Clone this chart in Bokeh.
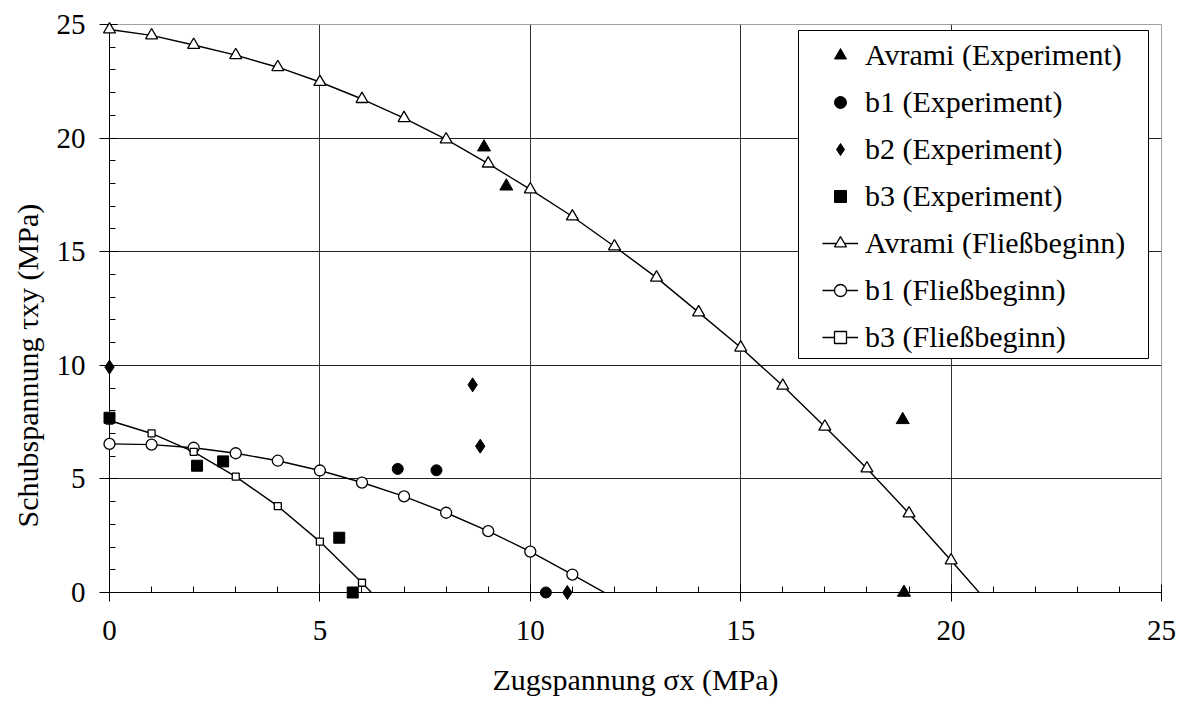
from bokeh.plotting import figure
from bokeh.models import (Legend, LegendItem, BoxAnnotation, Title, Range1d,
                          SingleIntervalTicker)
from bokeh.embed import file_html
from bokeh.resources import INLINE

# ---------------- data ----------------
# Experimental points
avrami_exp_x = [8.90, 9.43, 18.85, 18.88]
avrami_exp_y = [19.60, 17.88, 7.60, 0.0]

b1_exp_x = [6.85, 7.77, 10.37]
b1_exp_y = [5.44, 5.38, 0.0]

b2_exp_x = [0.0, 8.63, 8.81, 10.88]
b2_exp_y = [9.92, 9.14, 6.44, 0.0]

b3_exp_x = [0.0, 2.08, 2.70, 5.46, 5.78]
b3_exp_y = [7.69, 5.58, 5.77, 2.41, 0.0]

# Yield onset curves (last point lies below the axis, as in the original sheet)
avrami_fb_x = [0, 1, 2, 3, 4, 5, 6, 7, 8, 9, 10, 11, 12, 13, 14, 15, 16, 17, 18, 19, 20, 21]
avrami_fb_y = [24.78, 24.52, 24.10, 23.65, 23.12, 22.47, 21.72, 20.88, 19.94, 18.88, 17.74,
               16.55, 15.23, 13.86, 12.33, 10.78, 9.10, 7.30, 5.46, 3.48, 1.41, -0.70]

b1_fb_x = [0, 1, 2, 3, 4, 5, 6, 7, 8, 9, 10, 11, 12]
b1_fb_y = [6.54, 6.51, 6.37, 6.13, 5.80, 5.37, 4.84, 4.23, 3.51, 2.70, 1.80, 0.79, -0.25]

b3_fb_x = [0, 1, 2, 3, 4, 5, 6, 7]
b3_fb_y = [7.57, 7.00, 6.19, 5.10, 3.80, 2.24, 0.43, -1.50]

x_ticks = [0, 5, 10, 15, 20, 25]
y_ticks = [0, 5, 10, 15, 20, 25]

x_title = "Zugspannung σx (MPa)"
y_title = "Schubspannung τxy (MPa)"

labels = ["Avrami (Experiment)", "b1 (Experiment)", "b2 (Experiment)", "b3 (Experiment)",
          "Avrami (Fließbeginn)", "b1 (Fließbeginn)", "b3 (Fließbeginn)"]

FONT = "Liberation Serif"


def visible(xs, ys):
    """Markers are only drawn for points inside the axis range (like the source chart)."""
    pts = [(x, y) for x, y in zip(xs, ys)
           if x_ticks[0] <= x <= x_ticks[-1] and y_ticks[0] <= y <= y_ticks[-1]]
    return [a for a, _ in pts], [b for _, b in pts]


p = figure(width=1182, height=706,
           x_range=Range1d(x_ticks[0], x_ticks[-1]),
           y_range=Range1d(y_ticks[0], y_ticks[-1]),
           output_backend="svg", toolbar_location=None,
           min_border_left=109, min_border_right=21,
           min_border_top=24, min_border_bottom=114)

p.background_fill_color = "white"
p.border_fill_color = "white"
p.outline_line_color = "#a0a0a0"
p.outline_line_width = 1

# axes
for ax in (p.xaxis[0], p.yaxis[0]):
    ax.ticker = SingleIntervalTicker(interval=5, num_minor_ticks=5)
    ax.axis_line_color = "black"
    ax.axis_line_width = 1
    ax.major_tick_line_color = "black"
    ax.minor_tick_line_color = "black"
    ax.major_label_text_font = FONT
    ax.major_label_text_font_size = "29px"
    ax.major_label_text_color = "black"
    ax.minor_tick_in = 6
    ax.minor_tick_out = 0

p.xaxis.major_tick_in = 8
p.xaxis.major_tick_out = 9
p.xaxis.major_label_standoff = 19
p.yaxis.major_tick_in = 8
p.yaxis.major_tick_out = 10
p.yaxis.major_label_standoff = 14

p.xaxis.axis_label = x_title
p.xaxis.axis_label_text_font = FONT
p.xaxis.axis_label_text_font_size = "30px"
p.xaxis.axis_label_text_font_style = "normal"
p.xaxis.axis_label_text_color = "black"
p.xaxis.axis_label_standoff = 20

p.xgrid.grid_line_color = "#333333"
p.ygrid.grid_line_color = "#222222"
p.xgrid.grid_line_width = 1
p.ygrid.grid_line_width = 1

# curves (lines clipped at the plot area)
r_av_line = p.line(avrami_fb_x, avrami_fb_y, line_color="black", line_width=1.4)
r_b1_line = p.line(b1_fb_x, b1_fb_y, line_color="black", line_width=1.4)
r_b3_line = p.line(b3_fb_x, b3_fb_y, line_color="black", line_width=1.4)

mx, my = visible(avrami_fb_x, avrami_fb_y)
r_av_mk = p.scatter(mx, my, marker="triangle", size=12, fill_color="white",
                    line_color="black", line_width=1.3, level="overlay")
mx, my = visible(b1_fb_x, b1_fb_y)
r_b1_mk = p.scatter(mx, my, marker="circle", size=11, fill_color="white",
                    line_color="black", line_width=1.3, level="overlay")
mx, my = visible(b3_fb_x, b3_fb_y)
r_b3_mk = p.scatter(mx, my, marker="square", size=7, fill_color="white",
                    line_color="black", line_width=1.3, level="overlay")

r_av_exp = p.scatter(avrami_exp_x, avrami_exp_y, marker="triangle", size=13,
                     fill_color="black", line_color="black", level="overlay")
r_b1_exp = p.scatter(b1_exp_x, b1_exp_y, marker="circle", size=11,
                     fill_color="black", line_color="black", level="overlay")
r_b2_exp = p.scatter(b2_exp_x, b2_exp_y, marker="diamond", size=14,
                     fill_color="black", line_color="black", level="overlay")
r_b3_exp = p.scatter(b3_exp_x, b3_exp_y, marker="square", size=11,
                     fill_color="black", line_color="black", level="overlay")

# legend frame
box = BoxAnnotation(left=798, right=1148, top=30, bottom=358,
                    left_units="canvas", right_units="canvas",
                    top_units="canvas", bottom_units="canvas",
                    fill_color="white", fill_alpha=1.0,
                    line_color="black", line_width=1, line_alpha=1.0)
p.add_layout(box)

items = [
    LegendItem(label=labels[0], renderers=[r_av_exp]),
    LegendItem(label=labels[1], renderers=[r_b1_exp]),
    LegendItem(label=labels[2], renderers=[r_b2_exp]),
    LegendItem(label=labels[3], renderers=[r_b3_exp]),
    LegendItem(label=labels[4], renderers=[r_av_line, r_av_mk]),
    LegendItem(label=labels[5], renderers=[r_b1_line, r_b1_mk]),
    LegendItem(label=labels[6], renderers=[r_b3_line, r_b3_mk]),
]
legend = Legend(items=items, location=(713, 232), orientation="vertical",
                padding=0, spacing=0, margin=0,
                glyph_width=36, glyph_height=30, label_height=47,
                label_standoff=7,
                label_text_font=FONT, label_text_font_size="30px",
                label_text_color="black",
                border_line_alpha=0, background_fill_alpha=0)
p.add_layout(legend, "center")

# y axis title (placed as a side title so it can sit below the frame centre)
ytitle = Title(text=y_title, align="left", offset=65, vertical_align="middle",
               standoff=18, text_font=FONT, text_font_size="30px",
               text_font_style="normal", text_color="black")
p.add_layout(ytitle, "left")

open("out.html", "w").write(file_html(p, INLINE))
